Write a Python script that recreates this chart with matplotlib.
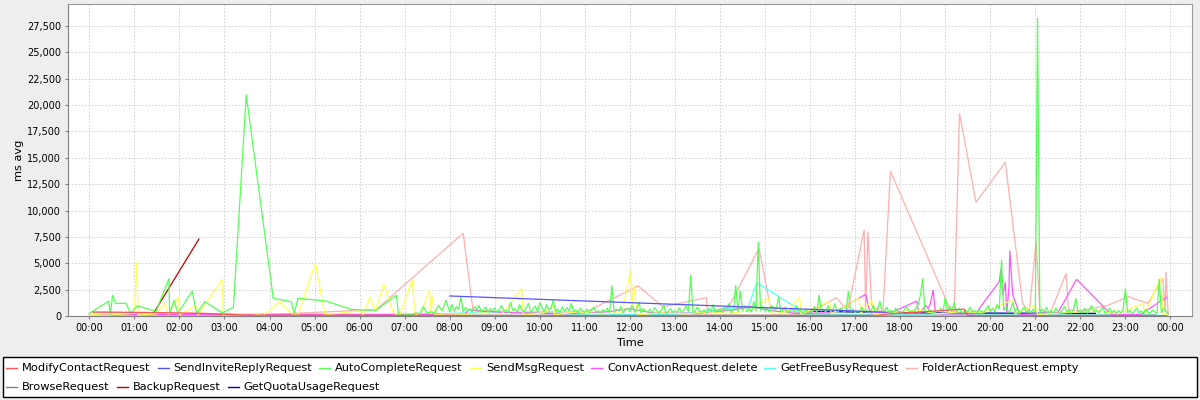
import matplotlib
matplotlib.use('Agg')
import matplotlib.pyplot as plt
from matplotlib.lines import Line2D
from matplotlib.patches import Rectangle
from matplotlib.ticker import FuncFormatter, MultipleLocator
import numpy as np

# series names and colours (JFreeChart default palette)
names = ['ModifyContactRequest', 'SendInviteReplyRequest', 'AutoCompleteRequest',
         'SendMsgRequest', 'ConvActionRequest.delete', 'GetFreeBusyRequest',
         'FolderActionRequest.empty', 'BrowseRequest', 'BackupRequest',
         'GetQuotaUsageRequest']
colors = ['#ff5555', '#5555ff', '#55ff55', '#ffff55', '#ff55ff', '#55ffff',
          '#ffafaf', '#808080', '#c00000', '#0000c0']

modify_t = ['00:05', '01:25', '02:30', '03:30', '10:00', '17:30', '17:45', '19:25', '19:30', '23:55']
modify_v = [380, 330, 250, 80, 40, 60, 200, 650, 30, 30]

invite_t = ['08:00', '16:50', '17:40']
invite_v = [1900, 500, 350]

# AutoCompleteRequest: sparse in the night, dense from 08:00
auto_t = ['00:00', '00:26', '00:28', '00:31', '00:35', '00:49', '00:55', '01:04', '01:29', '01:46',
          '01:47', '01:53', '01:58', '02:17', '02:23', '02:34', '02:57', '03:12', '03:29', '04:05',
          '04:29', '04:33', '04:38', '05:15', '05:48', '06:01', '06:22', '06:49', '06:52',
          '07:00', '07:05', '07:10', '07:15', '07:20', '07:25', '07:30', '07:35', '07:40', '07:45', '07:50', '07:55',
          '08:00', '08:03', '08:06', '08:09', '08:12', '08:15', '08:18', '08:21', '08:24', '08:27',
          '08:30', '08:33', '08:36', '08:39', '08:42', '08:45', '08:48', '08:51', '08:54', '08:57',
          '09:00', '09:03', '09:06', '09:09', '09:12', '09:15', '09:18', '09:21', '09:24', '09:27',
          '09:30', '09:33', '09:36', '09:39', '09:42', '09:45', '09:48', '09:51', '09:54', '09:57',
          '10:00', '10:03', '10:06', '10:09', '10:12', '10:15', '10:18', '10:21', '10:24', '10:27',
          '10:30', '10:33', '10:36', '10:39', '10:42', '10:45', '10:48', '10:51', '10:54', '10:57',
          '11:00', '11:03', '11:06', '11:09', '11:12', '11:15', '11:18', '11:21', '11:24', '11:27',
          '11:30', '11:33', '11:36', '11:39', '11:42', '11:45', '11:48', '11:51', '11:54', '11:57',
          '12:00', '12:03', '12:06', '12:09', '12:12', '12:15', '12:18', '12:21', '12:24', '12:27',
          '12:30', '12:33', '12:36', '12:39', '12:42', '12:45', '12:48', '12:51', '12:54', '12:57',
          '13:00', '13:03', '13:06', '13:09', '13:12', '13:15', '13:18', '13:21', '13:24', '13:27',
          '13:30', '13:33', '13:36', '13:39', '13:42', '13:45', '13:48', '13:51', '13:54', '13:57',
          '14:00', '14:03', '14:06', '14:09', '14:12', '14:15', '14:18', '14:21', '14:24', '14:27',
          '14:30', '14:33', '14:36', '14:39', '14:42', '14:45', '14:48', '14:51', '14:54', '14:57',
          '15:00', '15:03', '15:06', '15:09', '15:12', '15:15', '15:18', '15:21', '15:24', '15:27',
          '15:30', '15:33', '15:36', '15:39', '15:42', '15:45', '15:48', '15:51', '15:54', '15:57',
          '16:00', '16:03', '16:06', '16:09', '16:12', '16:15', '16:18', '16:21', '16:24', '16:27',
          '16:30', '16:33', '16:36', '16:39', '16:42', '16:45', '16:48', '16:51', '16:54', '16:57',
          '17:00', '17:03', '17:06', '17:09', '17:12', '17:15', '17:18', '17:21', '17:24', '17:27',
          '17:30', '17:33', '17:36', '17:39', '17:42', '17:45', '17:48', '17:51', '17:54', '17:57',
          '18:00', '18:03', '18:06', '18:09', '18:12', '18:15', '18:18', '18:21', '18:24', '18:27',
          '18:30', '18:33', '18:36', '18:39', '18:42', '18:45', '18:48', '18:51', '18:54', '18:57',
          '19:00', '19:03', '19:06', '19:09', '19:12', '19:15', '19:18', '19:21', '19:24', '19:27',
          '19:30', '19:33', '19:36', '19:39', '19:42', '19:45', '19:48', '19:51', '19:54', '19:57',
          '20:00', '20:03', '20:06', '20:09', '20:12', '20:15', '20:18', '20:21', '20:24', '20:27',
          '20:30', '20:33', '20:36', '20:39', '20:42', '20:45', '20:48', '20:51', '20:54', '20:57',
          '21:00', '21:03', '21:06', '21:09', '21:12', '21:15', '21:18', '21:21', '21:24', '21:27',
          '21:30', '21:33', '21:36', '21:39', '21:42', '21:45', '21:48', '21:51', '21:54', '21:57',
          '22:00', '22:03', '22:06', '22:09', '22:12', '22:15', '22:18', '22:21', '22:24', '22:27',
          '22:30', '22:33', '22:36', '22:39', '22:42', '22:45', '22:48', '22:51', '22:54', '22:57',
          '23:00', '23:03', '23:06', '23:09', '23:12', '23:15', '23:18', '23:21', '23:24', '23:27',
          '23:30', '23:33', '23:36', '23:39', '23:42', '23:45', '23:48', '23:51', '23:54', '23:57']
auto_v = [250, 1420, 50, 2000, 1200, 1200, 250, 950, 450, 3550,
          250, 1500, 250, 2370, 250, 1360, 300, 820, 21000, 1680,
          1360, 250, 1680, 1420, 640, 570, 550, 1990, 100,
          100, 150, 120, 300, 200, 900, 250, 400, 300, 1000, 500, 1500,
          400, 1100, 450, 900, 600, 1830, 350, 800, 500, 700,
          350, 900, 550, 1000, 400, 600, 850, 350, 700, 450,
          800, 350, 600, 1000, 450, 550, 300, 1300, 500, 700,
          350, 1100, 600, 400, 800, 1200, 350, 650, 950, 400,
          1300, 800, 400, 1100, 550, 750, 1500, 450, 650, 350,
          900, 400, 800, 500, 1200, 400, 600, 300, 750, 450,
          350, 650, 300, 550, 850, 350, 500, 250, 600, 400,
          750, 300, 2940, 350, 650, 450, 900, 300, 550, 750,
          400, 1000, 350, 550, 1300, 300, 700, 450, 350, 650,
          250, 800, 500, 300, 550, 1050, 250, 450, 700, 350,
          500, 350, 800, 300, 550, 1000, 400, 3890, 300, 500,
          850, 450, 350, 600, 250, 750, 450, 1100, 350, 500,
          650, 350, 850, 450, 1200, 300, 550, 2940, 350, 2400,
          500, 1000, 400, 750, 350, 1400, 450, 7050, 500, 900,
          450, 750, 350, 1000, 500, 650, 1830, 350, 550, 850,
          300, 500, 750, 350, 1000, 450, 550, 250, 650, 400,
          350, 550, 900, 300, 1990, 450, 650, 350, 1000, 400,
          500, 1200, 300, 550, 750, 350, 500, 2370, 400, 650,
          300, 500, 350, 850, 400, 550, 250, 450, 1000, 350,
          650, 1420, 300, 500, 850, 350, 550, 250, 750, 400,
          450, 300, 650, 900, 350, 500, 400, 750, 1100, 2000,
          3570, 500, 350, 650, 450, 300, 550, 400, 750, 350,
          1800, 400, 950, 550, 1300, 350, 750, 450, 300, 600,
          400, 850, 350, 550, 250, 650, 450, 350, 600, 1000,
          400, 750, 350, 1100, 650, 5310, 500, 900, 350, 600,
          1300, 400, 750, 250, 550, 850, 350, 600, 300, 650,
          350, 28300, 250, 650, 400, 850, 300, 550, 250, 750,
          450, 300, 600, 900, 350, 550, 250, 650, 1680, 350,
          550, 300, 750, 250, 600, 1000, 350, 650, 300, 550,
          850, 250, 450, 750, 300, 550, 200, 500, 300, 650,
          2620, 300, 550, 200, 450, 750, 300, 500, 200, 650,
          350, 250, 550, 400, 200, 3500, 300, 750, 500, 200]

sendmsg_t = ['00:00', '00:20', '00:40', '01:00', '01:03', '01:05', '01:30', '01:41', '01:45', '01:59',
             '02:00', '02:22', '02:25', '02:57', '02:58', '03:36', '03:52', '04:14', '04:30', '04:38',
             '05:01', '05:14', '06:00', '06:05', '06:14', '06:21', '06:32', '06:45', '06:53', '07:10',
             '07:14', '07:22', '07:33', '07:35', '07:36', '07:40', '07:55', '08:20', '08:45', '09:10',
             '09:36', '09:38', '10:05', '10:18', '10:20', '10:50', '11:20', '11:50', '12:01', '12:03',
             '12:05', '12:08', '12:10', '12:40', '13:15', '13:45', '14:10', '14:40', '15:05', '15:08',
             '15:30', '15:46', '15:48', '16:26', '16:28', '17:05', '17:08', '17:22', '17:25', '17:50',
             '18:20', '18:50', '19:20', '19:50', '20:30', '20:33', '21:00', '21:03', '21:40', '22:20',
             '22:50', '23:23', '23:26', '23:47', '23:50', '23:56']
sendmsg_v = [100, 200, 150, 250, 5100, 100, 200, 1200, 150, 1800,
             100, 1000, 100, 3500, 100, 250, 50, 1350, 200, 50,
             5000, 100, 500, 100, 1800, 400, 3030, 300, 50, 3410,
             100, 300, 2470, 200, 2000, 100, 200, 150, 300, 200,
             2620, 100, 300, 1000, 100, 400, 200, 300, 4430, 800,
             3000, 1500, 100, 300, 200, 400, 250, 500, 1680, 200,
             400, 1830, 150, 1400, 200, 1700, 200, 1520, 100, 300,
             600, 200, 400, 300, 1520, 200, 1000, 150, 300, 500,
             200, 1200, 200, 3670, 200, 100]

conv_t = ['00:00', '08:20', '08:25', '08:40', '09:30', '10:30', '11:30', '12:00', '12:30', '13:30',
          '14:20', '14:40', '15:10', '15:40', '16:30', '17:14', '17:20', '17:51', '18:22', '18:25',
          '18:34', '18:37', '18:40', '18:44', '18:47', '19:40', '20:12', '20:14', '20:17', '20:20',
          '20:22', '20:25', '20:26', '20:30', '20:35', '20:40', '21:00', '21:30', '21:55', '22:41',
          '23:20', '23:55']
conv_v = [150, 150, 600, 450, 300, 200, 400, 700, 300, 250,
          600, 900, 500, 250, 300, 2050, 300, 400, 1420, 200,
          1000, 700, 1100, 2470, 200, 200, 3250, 4430, 2000, 3200,
          300, 2800, 6190, 2000, 1000, 150, 200, 300, 3480, 150,
          150, 1770]

freebusy_t = ['00:00', '03:00', '06:00', '09:45', '10:25', '10:30', '13:00', '14:38', '14:49', '15:40',
              '15:45', '17:30', '20:00', '23:55']
freebusy_v = [80, 100, 80, 400, 400, 100, 150, 900, 3160, 880,
              200, 100, 80, 60]

folder_t = ['00:05', '02:30', '04:00', '06:22', '08:18', '08:31', '09:30', '11:02', '12:11', '12:44',
            '13:42', '13:43', '14:12', '14:52', '15:07', '15:36', '16:00', '16:35', '16:50', '17:12',
            '17:14', '17:17', '17:22', '17:37', '17:47', '19:08', '19:12', '19:19', '19:41', '20:20',
            '20:43', '20:52', '21:01', '21:06', '21:20', '21:41', '21:44', '22:00', '22:36', '23:04',
            '23:30', '23:50', '23:53', '23:54', '23:57']
folder_v = [350, 250, 150, 600, 7850, 550, 300, 410, 2850, 880,
            1740, 300, 900, 6420, 880, 400, 300, 1740, 500, 8160,
            300, 8000, 1000, 300, 13750, 410, 400, 19220, 10780, 14580,
            1200, 400, 7050, 600, 300, 4050, 600, 500, 1000, 1830,
            1200, 3570, 300, 4210, 100]

browse_t = ['00:30', '08:00', '16:00', '23:40']
browse_v = [80, 60, 70, 90]

backup_t = ['01:26', '02:26']
backup_v = [310, 7300]

quota_t = ['16:00', '18:00', '22:20']
quota_v = [450, 300, 250]


def hours(times):
    out = []
    for t in times:
        h, m = t.split(':')
        out.append(int(h) + int(m) / 60.0)
    return np.array(out)


series = [(modify_t, modify_v), (invite_t, invite_v), (auto_t, auto_v),
          (sendmsg_t, sendmsg_v), (conv_t, conv_v), (freebusy_t, freebusy_v),
          (folder_t, folder_v), (browse_t, browse_v), (backup_t, backup_v),
          (quota_t, quota_v)]

plt.rcParams['font.family'] = ['DejaVu Sans']

fig = plt.figure(figsize=(12, 4), dpi=100, facecolor='#eeeeee')
ax = fig.add_axes([68 / 1200, 84 / 400, 1124 / 1200, 312 / 400])
ax.set_facecolor('white')

# first series on top, like the original renderer
for i, (t, v) in enumerate(series):
    ax.plot(hours(t), v, color=colors[i], lw=0.9, zorder=20 - i, solid_joinstyle='miter')

ax.set_xlim(-0.473, 24.478)
ax.set_ylim(0, 29590)
ax.xaxis.set_major_locator(MultipleLocator(1))
ax.yaxis.set_major_locator(MultipleLocator(2500))
ax.xaxis.set_major_formatter(FuncFormatter(lambda x, p: '%02d:00' % (int(round(x)) % 24)))
ax.yaxis.set_major_formatter(FuncFormatter(lambda y, p: '{:,.0f}'.format(y)))
ax.tick_params(axis='both', labelsize=7, length=2, width=0.8, color='#808080', pad=3)

ax.grid(True, color='#cccccc', lw=0.6, linestyle=(0, (2, 2)))
ax.set_axisbelow(True)
for s in ax.spines.values():
    s.set_color('#999999')
    s.set_linewidth(0.8)
ax.spines['left'].set_color('#808080')
ax.spines['bottom'].set_color('#808080')

ax.set_xlabel('Time', fontsize=8.2, labelpad=4)
ax.set_ylabel('ms avg', fontsize=8.2, labelpad=2)

# legend box drawn in figure pixels, entries flow left to right
lax = fig.add_axes([0, 0, 1, 1], facecolor='none')
lax.set_xlim(0, 1200)
lax.set_ylim(400, 0)
lax.axis('off')
lax.add_patch(Rectangle((3, 356.5), 1194, 40.5, facecolor='white', edgecolor='black', lw=1.0))

renderer = fig.canvas.get_renderer()
x, y = 6, 368
for i, (name, c) in enumerate(zip(names, colors)):
    if i == 7:
        x, y = 6, 387
    txt = lax.text(x + 16, y, name, fontsize=8.2, va='center', ha='left')
    w = txt.get_window_extent(renderer).width
    lax.add_line(Line2D([x, x + 11], [y, y], color=c, lw=1.0))
    x = x + 16 + w + 7

fig.savefig('out.png', dpi=100, facecolor=fig.get_facecolor())
